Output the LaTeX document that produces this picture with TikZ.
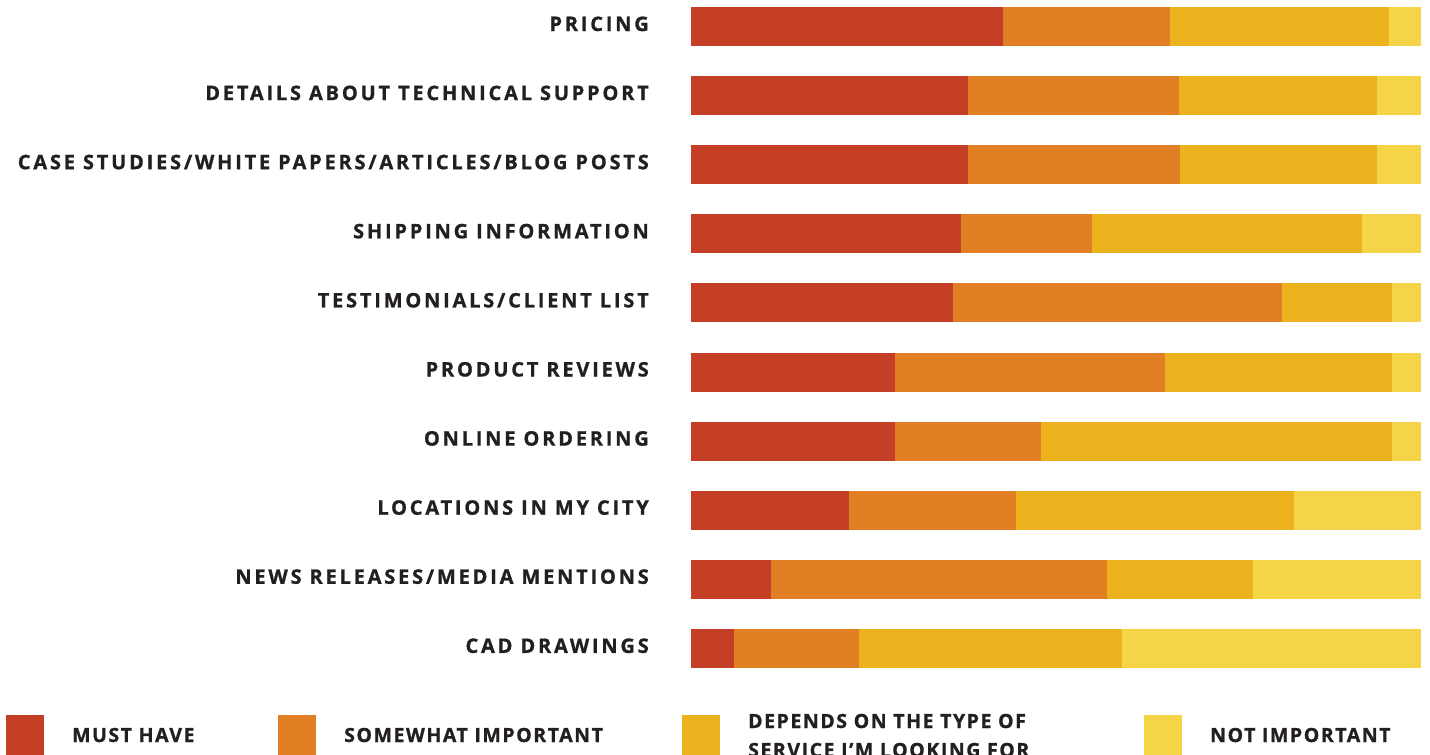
\documentclass[tikz,border=0pt]{standalone}
\usepackage{fontspec}
\usepackage{tikz}
\usetikzlibrary{positioning}
\newfontfamily\chartfont[LetterSpace=14, FakeBold=1]{Open Sans}
\newfontfamily\keyfont[LetterSpace=8, FakeBold=1]{Open Sans}

\definecolor{musthave}{HTML}{C43F26}
\definecolor{somewhat}{HTML}{E07F24}
\definecolor{depends}{HTML}{EDB31E}
\definecolor{notimp}{HTML}{F5D447}
\definecolor{labeltext}{HTML}{231F20}

\tikzset{rowlabel/.style = {anchor=base east, inner sep=0pt, text=labeltext,
                            font=\chartfont\bfseries\fontsize{20}{24}\selectfont},
         keylabel/.style = {anchor=base west, inner sep=0pt, text=labeltext, align=left,
                            font=\keyfont\bfseries\fontsize{19.5}{29}\selectfont},
         keybox/.style = {minimum width=38pt, minimum height=40pt, inner sep=0pt,
                          anchor=north west}}

\begin{document}
\begin{tikzpicture}[x=1pt, y=-1pt]
    \useasboundingbox (0, 0) rectangle (1430, 755);

    \foreach \i/\lbl/\a/\b/\c in {0/PRICING/1003/1170/1389,
                                 1/DETAILS ABOUT TECHNICAL SUPPORT/968/1179/1377,
                                 2/{CASE STUDIES/WHITE PAPERS/ARTICLES/BLOG POSTS}/968/1180/1377,
                                 3/SHIPPING INFORMATION/961/1092/1362,
                                 4/{TESTIMONIALS/CLIENT LIST}/953/1282/1392,
                                 5/PRODUCT REVIEWS/895/1165/1392,
                                 6/ONLINE ORDERING/895/1041/1392,
                                 7/LOCATIONS IN MY CITY/849/1016/1294,
                                 8/{NEWS RELEASES/MEDIA MENTIONS}/771/1107/1253,
                                 9/CAD DRAWINGS/734/859/1122} {
      \pgfmathsetmacro\top{7 + 69.1*\i}
      \fill [musthave] (691, \top) rectangle (\a, \top + 39);
      \fill [somewhat] (\a, \top) rectangle (\b, \top + 39);
      \fill [depends] (\b, \top) rectangle (\c, \top + 39);
      \fill [notimp] (\c, \top) rectangle (1421, \top + 39);
      \node [rowlabel] (row\i) at (649, \top + 24) {\lbl};
    }

    % legend
    \node [keybox, fill=musthave] (key1) at (6, 715) {};
    \node [keybox, fill=somewhat] (key2) at (278, 715) {};
    \node [keybox, fill=depends] (key3) at (682, 715) {};
    \node [keybox, fill=notimp] (key4) at (1144, 715) {};
    \node [keylabel] (text1) at (72, 742) {MUST HAVE};
    \node [keylabel] (text2) at (344, 742) {SOMEWHAT IMPORTANT};
    \node [keylabel] (text3) at (748, 757) {DEPENDS ON THE TYPE OF\\SERVICE I’M LOOKING FOR};
    \node [keylabel] (text4) at (1210, 742) {NOT IMPORTANT};
  \end{tikzpicture}
\end{document}
